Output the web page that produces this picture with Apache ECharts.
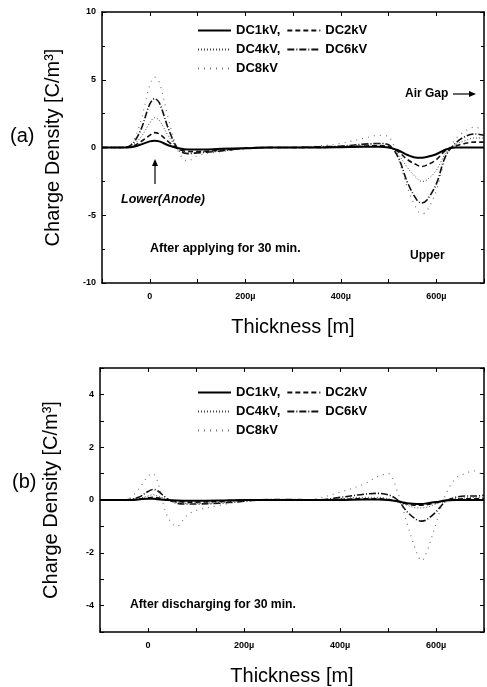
<!DOCTYPE html>
<html>
<head>
<meta charset="utf-8">
<script src="https://cdn.jsdelivr.net/npm/echarts@6/dist/echarts.min.js"></script>
<style>
  html, body { margin: 0; padding: 0; background: #fff; }
  #chart { width: 487px; height: 687px; }
</style>
</head>
<body>
<div id="chart"></div>
<script>
// thickness positions (m, shown as µ)
const thickness = [-100, -60, -40, -20, 0, 10, 20, 40, 60, 80, 100, 150, 200, 250, 300, 350, 400, 450, 480, 500, 520, 540, 560, 570, 580, 600, 620, 640, 660, 680, 700];

const seriesNames = ['DC1kV', 'DC2kV', 'DC4kV', 'DC6kV', 'DC8kV'];

// (a) after applying for 30 min
const applyDC1 = [0, 0, 0.02, 0.2, 0.45, 0.5, 0.45, 0.15, -0.05, -0.15, -0.15, -0.1, -0.05, 0, 0, 0, 0.02, 0.05, 0.05, 0, -0.2, -0.55, -0.75, -0.75, -0.7, -0.5, -0.15, 0, 0, 0, 0];
const applyDC2 = [0, 0, 0.05, 0.4, 0.9, 1.1, 1.0, 0.4, -0.1, -0.3, -0.3, -0.2, -0.05, 0, 0, 0, 0.05, 0.1, 0.15, 0.05, -0.3, -0.9, -1.3, -1.4, -1.3, -0.9, -0.2, 0.1, 0.3, 0.4, 0.4];
const applyDC4 = [0, 0, 0.1, 0.7, 1.8, 2.2, 2.0, 0.8, -0.1, -0.4, -0.35, -0.2, -0.05, 0, 0, 0, 0.1, 0.2, 0.3, 0.15, -0.5, -1.5, -2.3, -2.5, -2.4, -1.7, -0.4, 0.2, 0.5, 0.7, 0.7];
const applyDC6 = [0, 0, 0.15, 1.2, 3.2, 3.6, 3.3, 1.3, -0.15, -0.45, -0.4, -0.25, -0.05, 0, 0, 0.05, 0.1, 0.25, 0.3, 0.2, -0.7, -2.6, -3.9, -4.1, -3.9, -2.7, -0.6, 0.3, 0.8, 1.0, 0.9];
const applyDC8 = [0, 0, 0.2, 1.8, 4.6, 5.2, 4.8, 2.0, -0.3, -1.0, -0.6, -0.3, -0.1, 0, 0, 0.1, 0.3, 0.7, 0.9, 0.8, -0.8, -3.0, -4.6, -4.9, -4.7, -3.2, -0.7, 0.6, 1.2, 1.5, 1.3];

// (b) after discharging for 30 min
const dischDC1 = [0, 0, 0, 0.02, 0.05, 0.05, 0.03, 0, -0.02, -0.03, -0.03, -0.02, 0, 0, 0, 0, 0, 0.02, 0.02, 0, -0.05, -0.12, -0.15, -0.15, -0.13, -0.08, -0.02, 0, 0, 0, 0];
const dischDC2 = [0, 0, 0, 0.03, 0.08, 0.1, 0.08, 0, -0.05, -0.08, -0.08, -0.05, 0, 0, 0, 0, 0.02, 0.05, 0.05, 0.02, -0.05, -0.15, -0.2, -0.2, -0.18, -0.1, -0.02, 0.02, 0.05, 0.05, 0.05];
const dischDC4 = [0, 0, 0, 0.05, 0.15, 0.2, 0.15, 0, -0.1, -0.12, -0.12, -0.1, -0.02, 0, 0, 0, 0.05, 0.1, 0.1, 0.05, -0.08, -0.2, -0.3, -0.3, -0.28, -0.15, -0.02, 0.05, 0.08, 0.1, 0.1];
const dischDC6 = [0, 0, 0.02, 0.1, 0.32, 0.4, 0.35, 0.05, -0.12, -0.15, -0.15, -0.12, -0.05, 0.02, 0.02, 0, 0.1, 0.22, 0.25, 0.2, 0, -0.45, -0.75, -0.8, -0.75, -0.45, -0.05, 0.1, 0.15, 0.15, 0.18];
const dischDC8 = [0, 0, 0.05, 0.4, 0.9, 1.0, 0.7, -0.6, -1.0, -0.6, -0.4, -0.2, -0.05, 0, 0, 0.05, 0.3, 0.6, 0.9, 1.0, 0.3, -0.9, -2.0, -2.3, -2.0, -0.9, 0.2, 0.8, 1.0, 1.1, 0.9];

const xTickLabels = {0: '0', 200: '200µ', 400: '400µ', 600: '600µ'};

const FONT = '"Liberation Sans", Arial, sans-serif';

const lineStyles = [
    {color: '#000', width: 2, type: 'solid'},
    {color: '#111', width: 1.6, type: [5, 3]},
    {color: '#444', width: 1, type: [1, 2]},
    {color: '#111', width: 1.6, type: [7, 2, 1, 2]},
    {color: '#777', width: 1.2, type: [1, 5]}
];

function pairs(ys) {
    return thickness.map(function (x, i) { return [x, ys[i]]; });
}

function makeSeries(idx, sets) {
    return sets.map(function (ys, i) {
        return {
            name: seriesNames[i],
            type: 'line',
            xAxisIndex: idx * 2,
            yAxisIndex: idx * 2,
            data: pairs(ys),
            smooth: 0.35,
            symbol: 'none',
            itemStyle: {color: lineStyles[i].color},
            lineStyle: lineStyles[i],
            z: 10 - i
        };
    });
}

function xAxes(gridIndex) {
    const common = {
        type: 'value',
        gridIndex: gridIndex,
        min: -100,
        max: 700,
        interval: 100,
        splitLine: {show: false},
        axisLine: {onZero: false, lineStyle: {color: '#000', width: 1.5}},
        axisTick: {inside: true, length: 4, lineStyle: {color: '#000'}}
    };
    return [
        Object.assign({}, common, {
            position: 'bottom',
            name: 'Thickness [m]',
            nameLocation: 'middle',
            nameGap: 34,
            nameTextStyle: {fontFamily: FONT, fontSize: 20, color: '#000'},
            axisLabel: {
                margin: 9,
                fontFamily: FONT,
                fontSize: 9,
                fontWeight: 'bold',
                color: '#000',
                formatter: function (v) { return xTickLabels[v] !== undefined ? xTickLabels[v] : ''; }
            }
        }),
        Object.assign({}, common, {position: 'top', axisLabel: {show: false}})
    ];
}

function yAxes(gridIndex, min, max, interval, labelStep, minorSplit) {
    const common = {
        type: 'value',
        gridIndex: gridIndex,
        min: min,
        max: max,
        interval: interval,
        splitLine: {show: false},
        axisLine: {show: true, onZero: false, lineStyle: {color: '#000', width: 1.5}},
        axisTick: {show: true, inside: true, length: 4, lineStyle: {color: '#000'}},
        minorTick: {show: minorSplit > 1, splitNumber: minorSplit, length: 3, lineStyle: {color: '#000'}},
        minorSplitLine: {show: false}
    };
    return [
        Object.assign({}, common, {
            position: 'left',
            name: 'Charge Density [C/m³]',
            nameLocation: 'middle',
            nameGap: 39,
            nameTextStyle: {fontFamily: FONT, fontSize: 20, color: '#000'},
            axisLabel: {
                margin: 6,
                fontFamily: FONT,
                fontSize: 9,
                fontWeight: 'bold',
                color: '#000',
                formatter: function (v) { return v % labelStep === 0 ? String(v) : ''; }
            }
        }),
        Object.assign({}, common, {position: 'right', axisLabel: {show: false}})
    ];
}

function legendFor(top) {
    return {
        left: 197,
        top: top,
        width: 178,
        padding: 0,
        orient: 'horizontal',
        itemWidth: 33,
        itemHeight: 12,
        itemGap: 6,
        selectedMode: false,
        data: seriesNames,
        itemStyle: {opacity: 0},
        formatter: function (n) { return (n === 'DC1kV' || n === 'DC4kV') ? n + ',' : n; },
        textStyle: {fontFamily: FONT, fontSize: 13, fontWeight: 'bold', color: '#000'}
    };
}

function text(x, y, str, extra) {
    return {
        type: 'text',
        left: x,
        top: y,
        style: Object.assign({text: str, fontFamily: FONT, fontSize: 12, fontWeight: 'bold', fill: '#000'}, extra || {})
    };
}

const chart = echarts.init(document.getElementById('chart'));

const option = {
    animation: false,
    backgroundColor: '#fff',
    grid: [
        {left: 102, top: 12, width: 384, height: 271},
        {left: 100, top: 368, width: 386, height: 266}
    ],
    legend: [legendFor(24), legendFor(386)],
    xAxis: xAxes(0).concat(xAxes(1)),
    yAxis: yAxes(0, -10, 10, 5, 5, 2).concat(yAxes(1, -5, 5, 1, 2, 1)),
    series: makeSeries(0, [applyDC1, applyDC2, applyDC4, applyDC6, applyDC8])
        .concat(makeSeries(1, [dischDC1, dischDC2, dischDC4, dischDC6, dischDC8])),
    graphic: [
        text(10, 126, '(a)', {fontSize: 20, fontWeight: 'normal'}),
        text(12, 472, '(b)', {fontSize: 20, fontWeight: 'normal'}),
        text(121, 193, 'Lower(Anode)', {fontStyle: 'italic', fontSize: 12.5}),
        {type: 'line', shape: {x1: 155, y1: 184, x2: 155, y2: 164}, style: {stroke: '#000', lineWidth: 1.2}},
        {type: 'polygon', shape: {points: [[152, 166], [158, 166], [155, 159]]}, style: {fill: '#000'}},
        text(405, 88, 'Air Gap'),
        {type: 'line', shape: {x1: 453, y1: 94, x2: 471, y2: 94}, style: {stroke: '#000', lineWidth: 1.2}},
        {type: 'polygon', shape: {points: [[469, 91], [469, 97], [476, 94]]}, style: {fill: '#000'}},
        text(150, 242, 'After applying for 30 min.', {fontSize: 12.5}),
        text(410, 250, 'Upper'),
        text(130, 599, 'After discharging for 30 min.', {fontSize: 12.2})
    ]
};

chart.setOption(option);
</script>
</body>
</html>
